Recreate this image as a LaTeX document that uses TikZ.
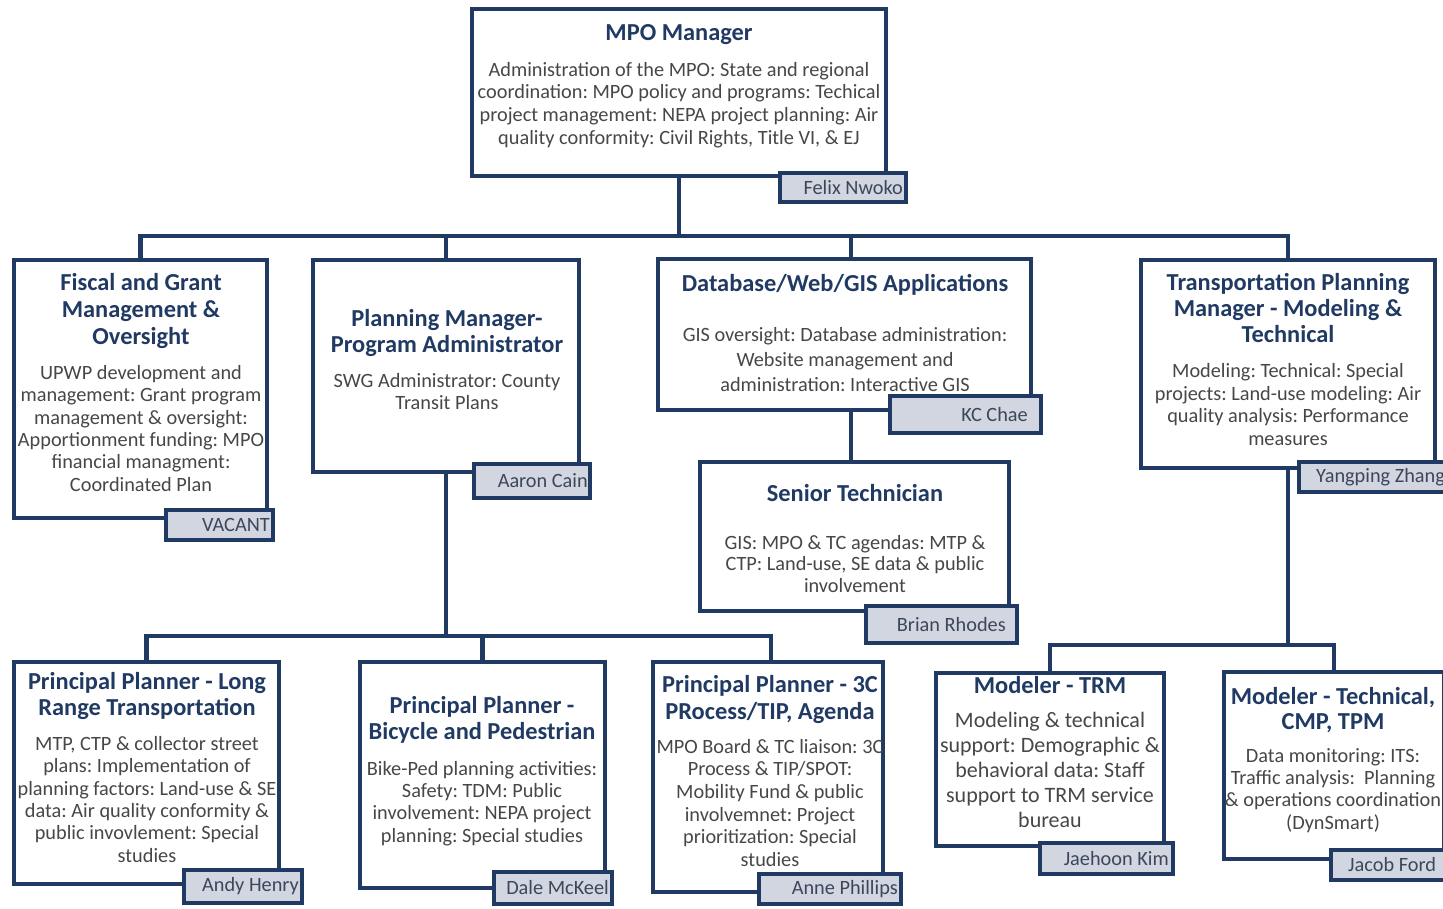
\documentclass[tikz,border=0pt]{standalone}
\usepackage{fontspec}
\setmainfont{Carlito}
\usetikzlibrary{backgrounds}
\definecolor{navy}{HTML}{203A63}
\definecolor{bodygray}{HTML}{474747}
\definecolor{tagfill}{HTML}{D2D6E0}
\definecolor{tagtext}{HTML}{3C475C}
\newcommand\ocbox[6]{\node[#6, minimum width={(#4)-(#2)-4}, minimum height={(#5)-(#3)-4}] (#1) at ({((#2)+(#4))/2},{((#3)+(#5))/2}) {};}
\frenchspacing
\begin{document}
\frenchspacing
\begin{tikzpicture}[x=1pt,y=-1pt,
  box/.style={draw=navy, line width=4pt, fill=white, rectangle, inner sep=0pt},
  tagbox/.style={draw=navy, line width=4pt, fill=tagfill, rectangle, inner sep=0pt},
  conn/.style={draw=navy, line width=4.2pt},
  ttl/.style={font=\bfseries\fontsize{24.4}{26.5}\selectfont, text=navy, align=center, inner sep=0pt, anchor=north, yshift=2pt},
  bdy/.style={font=\fontsize{20.3}{22.5}\selectfont, text=bodygray, align=center, inner sep=0pt, anchor=north, yshift=1.5pt},
  tagname/.style={font=\fontsize{20.3}{22}\selectfont, text=tagtext, inner sep=0pt}]
\useasboundingbox (0,0) rectangle (1443,908);
\clip (0,0) rectangle (1443,908);

% boxes
\ocbox{mpo}{470}{7}{888}{178}{box}
\ocbox{fis}{12}{258}{269}{520}{box}
\ocbox{plm}{311}{258}{581}{474}{box}
\ocbox{dbw}{656}{257}{1033}{412}{box}
\ocbox{sen}{698}{460}{1011}{613}{box}
\ocbox{tpm}{1139}{258}{1437}{470}{box}
\ocbox{lrt}{12}{660}{281}{886}{box}
\ocbox{bik}{358}{660}{607}{890}{box}
\ocbox{tcp}{651}{660}{885}{894}{box}
\ocbox{trm}{934}{671}{1166}{848}{box}
\ocbox{tec}{1222}{670}{1446}{861}{box}

% connectors (behind boxes)
\begin{scope}[on background layer]
\fill[white] (0,0) rectangle (1443,908);
\coordinate (busM) at (mpo.south |- 0,236);
\coordinate (busP) at (plm.south |- 0,636);
\coordinate (busT) at (tpm.south |- 0,645);
\draw[conn] (mpo.south) -- (busM);
\draw[conn] (busM) -| (fis.north);
\draw[conn] (busM) -| (plm.north);
\draw[conn] (busM) -| ([xshift=6.5pt]dbw.north);
\draw[conn] (busM) -| (tpm.north);
\draw[conn] ([xshift=6.5pt]dbw.south) -- ([xshift=6.5pt]dbw.south |- sen.north);
\draw[conn] (plm.south) -- (busP);
\draw[conn] (busP) -| (lrt.north);
\draw[conn] (busP) -| (bik.north);
\draw[conn] (busP) -| ([xshift=3pt]tcp.north);
\draw[conn] (tpm.south) -- (busT);
\draw[conn] (busT) -| (trm.north);
\draw[conn] (busT) -| (tec.north);
\end{scope}

% texts
\node[ttl] (mpoT) at (679,25.9) {MPO Manager};
\node[bdy, font=\fontsize{20.3}{22.7}\selectfont] (mpoD) at (679,63.5) {Administration of the MPO: State and regional\\coordination: MPO policy and programs: Techical\\project management: NEPA project planning: Air\\quality conformity: Civil Rights, Title VI, \& EJ};

\node[ttl, font=\bfseries\fontsize{24.4}{27}\selectfont] (fisT) at (141,274.9) {Fiscal and Grant\\Management \&\\Oversight};
\node[bdy, font=\fontsize{20.3}{22.4}\selectfont] (fisD) at (141,366.5) {UPWP development and\\management: Grant program\\management \& oversight:\\Apportionment funding: MPO\\financial managment:\\Coordinated Plan};

\node[ttl, font=\bfseries\fontsize{24.4}{26}\selectfont] (plmT) at (447,310.9) {Planning Manager-\\Program Administrator};
\node[bdy, font=\fontsize{20.3}{22}\selectfont] (plmD) at (447,374.5) {SWG Administrator: County\\Transit Plans};

\node[ttl] (dbwT) at (845,275.9) {Database/Web/GIS Applications};
\node[bdy, font=\fontsize{20.3}{25}\selectfont] (dbwD) at (845,328.5) {GIS oversight: Database administration:\\Website management and\\administration: Interactive GIS};

\node[ttl] (senT) at (855,485.9) {Senior Technician};
\node[bdy, font=\fontsize{20.3}{21.5}\selectfont] (senD) at (855,536.5) {GIS: MPO \& TC agendas: MTP \&\\CTP: Land-use, SE data \& public\\involvement};

\node[ttl, font=\bfseries\fontsize{24.4}{26}\selectfont] (tpmT) at (1288,274.9) {Transportation Planning\\Manager - Modeling \&\\Technical};
\node[bdy, font=\fontsize{20.3}{22.7}\selectfont] (tpmD) at (1288,364.5) {Modeling: Technical: Special\\projects: Land-use modeling: Air\\quality analysis: Performance\\measures};

\node[ttl, font=\bfseries\fontsize{24.4}{26.5}\selectfont] (lrtT) at (147,673.9) {Principal Planner - Long\\Range Transportation};
\node[bdy, font=\fontsize{20.3}{22.4}\selectfont] (lrtD) at (147,737.5) {MTP, CTP \& collector street\\plans: Implementation of\\planning factors: Land-use \& SE\\data: Air quality conformity \&\\public invovlement: Special\\studies};

\node[ttl, font=\bfseries\fontsize{24.4}{26}\selectfont] (bikT) at (482,697.9) {Principal Planner -\\Bicycle and Pedestrian};
\node[bdy, font=\fontsize{20.3}{22.3}\selectfont] (bikD) at (482,762.5) {Bike-Ped planning activities:\\Safety: TDM: Public\\involvement: NEPA project\\planning: Special studies};

\node[ttl, font=\bfseries\fontsize{24.4}{27}\selectfont] (tcpT) at (770,676.9) {Principal Planner - 3C\\PRocess/TIP, Agenda};
\node[bdy, font=\fontsize{20.3}{22.6}\selectfont] (tcpD) at (770,740.5) {MPO Board \& TC liaison: 3C\\Process \& TIP/SPOT:\\Mobility Fund \& public\\involvemnet: Project\\prioritization: Special\\studies};

\node[ttl] (trmT) at (1050,677.9) {Modeler - TRM};
\node[bdy, font=\fontsize{22}{25}\selectfont] (trmD) at (1050,713.1) {Modeling \& technical\\support: Demographic \&\\behavioral data: Staff\\support to TRM service\\bureau};

\node[ttl, font=\bfseries\fontsize{24.4}{25}\selectfont] (tecT) at (1333,688.9) {Modeler - Technical,\\CMP, TPM};
\node[bdy, font=\fontsize{20.3}{22.3}\selectfont] (tecD) at (1333,749.5) {Data monitoring: ITS:\\Traffic analysis:\ \ Planning\\\& operations coordination\\(DynSmart)};

% name tags
\ocbox{felix}{778}{171}{908}{204}{tagbox}
\node[tagname, anchor=east] (felixN) at ([xshift=-5pt]felix.east) {Felix Nwoko};
\ocbox{vacant}{164}{508}{275}{542}{tagbox}
\node[tagname, anchor=east] (vacantN) at ([xshift=-5pt]vacant.east) {VACANT};
\ocbox{aaron}{472}{462}{592}{500}{tagbox}
\node[tagname, anchor=east] (aaronN) at ([xshift=-4pt]aaron.east) {Aaron Cain};
\ocbox{kc}{888}{394}{1043}{435}{tagbox}
\node[tagname, anchor=east] (kcN) at ([xshift=-15pt]kc.east) {KC Chae};
\ocbox{brian}{864}{604}{1019}{645}{tagbox}
\node[tagname, anchor=east] (brianN) at ([xshift=-13pt]brian.east) {Brian Rhodes};
\ocbox{yang}{1297}{460}{1470}{494}{tagbox}
\node[tagname, anchor=west] (yangN) at (1316,477) {Yangping Zhang};
\ocbox{andy}{182}{868}{304}{905}{tagbox}
\node[tagname, anchor=east] (andyN) at ([xshift=-5pt]andy.east) {Andy Henry};
\ocbox{dale}{492}{870}{614}{906}{tagbox}
\node[tagname, anchor=east] (daleN) at ([xshift=-5pt]dale.east) {Dale McKeel};
\ocbox{anne}{757}{872}{903}{906}{tagbox}
\node[tagname, anchor=east] (anneN) at ([xshift=-5pt]anne.east) {Anne Phillips};
\ocbox{jae}{1038}{841}{1175}{876}{tagbox}
\node[tagname, anchor=east] (jaeN) at ([xshift=-6pt]jae.east) {Jaehoon Kim};
\ocbox{jacob}{1329}{848}{1480}{882}{tagbox}
\node[tagname, anchor=west] (jacobN) at (1348,865) {Jacob Ford};
\end{tikzpicture}
\end{document}
